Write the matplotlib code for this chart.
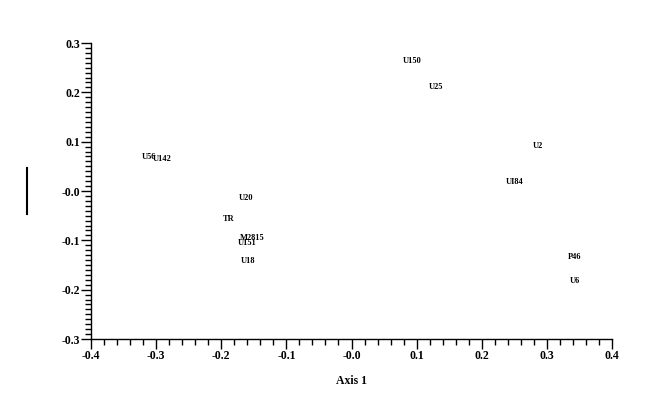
import matplotlib
matplotlib.use("Agg")
import matplotlib.pyplot as plt
from matplotlib.ticker import MultipleLocator, FixedLocator, FixedFormatter
from matplotlib.lines import Line2D

labels = ["U150", "U25", "U2", "UI84", "P46", "U6", "U56", "U142",
          "U20", "TR", "M2815", "U151", "U18"]
axis1 = [0.093, 0.130, 0.286, 0.251, 0.343, 0.343, -0.311, -0.291,
         -0.162, -0.188, -0.153, -0.160, -0.159]
axis2 = [0.264, 0.211, 0.091, 0.018, -0.134, -0.183, 0.069, 0.065,
         -0.014, -0.057, -0.095, -0.105, -0.142]

xticks = [-0.4, -0.3, -0.2, -0.1, 0.0, 0.1, 0.2, 0.3, 0.4]
xticklabels = ["-0.4", "-0.3", "-0.2", "-0.1", "-0.0", "0.1", "0.2", "0.3", "0.4"]
yticks = [-0.3, -0.2, -0.1, 0.0, 0.1, 0.2, 0.3]
yticklabels = ["-0.3", "-0.2", "-0.1", "-0.0", "0.1", "0.2", "0.3"]

plt.rcParams['font.family'] = ['Liberation Serif', 'DejaVu Serif']

fig = plt.figure(figsize=(6.64, 4.13), dpi=100)
ax = fig.add_axes([91/664, 1-339/413, (612-91)/664, (339-43)/413])

for lab, x, y in zip(labels, axis1, axis2):
    ax.text(x, y, lab, ha='center', va='center', fontsize=6, fontweight='bold')

ax.set_xlim(-0.4, 0.4)
ax.set_ylim(-0.3, 0.3)
ax.spines['top'].set_visible(False)
ax.spines['right'].set_visible(False)
for s in ['left', 'bottom']:
    ax.spines[s].set_linewidth(1.0)

ax.xaxis.set_major_locator(FixedLocator(xticks))
ax.xaxis.set_major_formatter(FixedFormatter(xticklabels))
ax.yaxis.set_major_locator(FixedLocator(yticks))
ax.yaxis.set_major_formatter(FixedFormatter(yticklabels))
ax.xaxis.set_minor_locator(MultipleLocator(0.02))
ax.yaxis.set_minor_locator(MultipleLocator(0.01))
ax.tick_params(axis='both', which='major', direction='out', length=7, width=1,
               labelsize=8.5, pad=1)
ax.tick_params(axis='both', which='minor', direction='out', length=4, width=1)
for t in ax.get_xticklabels() + ax.get_yticklabels():
    t.set_fontweight('bold')

ax.set_xlabel("Axis 1", fontsize=8.5, fontweight='bold', labelpad=9)

fig.add_artist(Line2D([27/664, 27/664], [1-168/413, 1-214/413],
                      transform=fig.transFigure, color='black', linewidth=1.5))

fig.savefig("out.png", dpi=100)
